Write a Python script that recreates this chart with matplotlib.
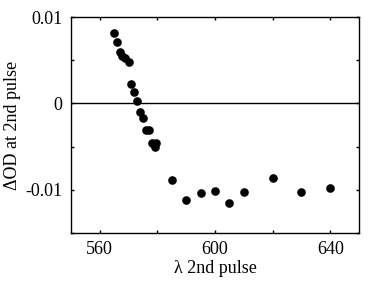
import matplotlib
matplotlib.use("Agg")
from matplotlib import pyplot as plt
from matplotlib.ticker import MultipleLocator, FixedLocator

wavelength = [564.9, 566.0, 567.0, 567.8, 568.7, 570.1, 571.0, 571.9, 572.9, 573.9,
              575.0, 576.0, 577.2, 578.2, 579.6, 579.1, 584.9, 589.8, 595.1, 599.9,
              605.0, 610.0, 620.0, 630.0, 640.0]
delta_od = [0.0081, 0.0071, 0.0060, 0.0055, 0.0052, 0.0048, 0.00225, 0.00136, 0.00027, -0.0010,
            -0.0017, -0.0031, -0.0031, -0.0046, -0.0046, -0.0050, -0.00884, -0.0112, -0.0104, -0.0101,
            -0.0115, -0.0103, -0.0086, -0.0103, -0.0098]

xticks = [560, 600, 640]
yticks = [-0.01, 0, 0.01]
yticklabels = ["-0.01", "0", "0.01"]

plt.rcParams['font.family'] = ['Liberation Serif', 'DejaVu Serif']

fig = plt.figure(figsize=(3.68, 2.87), dpi=100)
ax = fig.add_axes([71 / 368, 54 / 287, 288 / 368, 216 / 287])

ax.axhline(0, color='black', lw=1)
ax.plot(wavelength, delta_od, 'o', color='black', markersize=6.2, markeredgewidth=0)

ax.set_xlim(550, 650)
ax.set_ylim(-0.015, 0.01)
ax.xaxis.set_major_locator(FixedLocator(xticks))
ax.xaxis.set_minor_locator(MultipleLocator(20))
ax.yaxis.set_major_locator(FixedLocator(yticks))
ax.yaxis.set_minor_locator(MultipleLocator(0.005))
ax.set_yticklabels(yticklabels)
ax.tick_params(which='both', direction='in', top=True, right=True, length=2.5, width=1,
               labelsize=13)
ax.tick_params(axis='x', pad=6)
ax.tick_params(axis='y', pad=6)
for s in ax.spines.values():
    s.set_linewidth(1)

ax.set_xlabel("λ 2nd pulse", fontsize=13, labelpad=1.5)
ax.set_ylabel("ΔOD at 2nd pulse", fontsize=13, labelpad=3)

fig.savefig("out.png", dpi=100)
